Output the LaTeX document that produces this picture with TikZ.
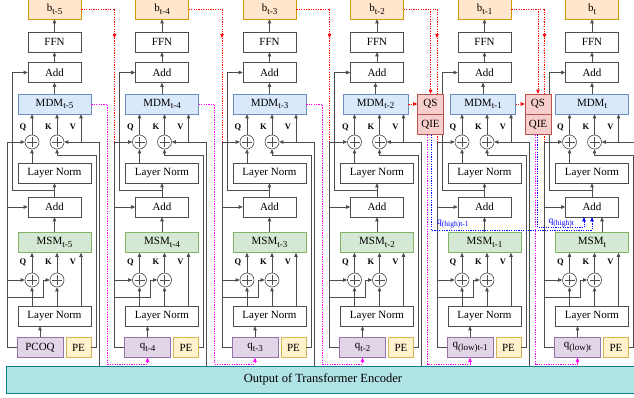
\documentclass[tikz,border=0pt]{standalone}
\usepackage{fontspec}
\setmainfont{Liberation Serif}
\usepackage{tikz}
\usetikzlibrary{arrows.meta,positioning}
\definecolor{gline}{HTML}{4D4D4D}
\definecolor{orF}{HTML}{FFE6CC}\definecolor{orD}{HTML}{D79B00}
\definecolor{blF}{HTML}{DAE8FC}\definecolor{blD}{HTML}{6C8EBF}
\definecolor{grF}{HTML}{D5E8D4}\definecolor{grD}{HTML}{82B366}
\definecolor{puF}{HTML}{E1D5E7}\definecolor{puD}{HTML}{9673A6}
\definecolor{yeF}{HTML}{FFF2CC}\definecolor{yeD}{HTML}{D6B656}
\definecolor{rsF}{HTML}{F8CECC}\definecolor{rsD}{HTML}{B85450}
\definecolor{teF}{HTML}{B0E3E6}\definecolor{teD}{HTML}{0E8088}
\definecolor{pkC}{HTML}{FF00FF}
\definecolor{buC}{HTML}{0000FF}
\definecolor{rdC}{HTML}{FF0000}
\newcommand{\dsub}[1]{\raisebox{-2.6pt}{\fontsize{9}{9}\selectfont #1}}
\newcommand{\hsub}[1]{\raisebox{-2pt}{\fontsize{7.5}{8}\selectfont #1}}

\begin{document}
\begin{tikzpicture}[x=1pt,y=-1pt,
   every node/.style={font=\fontsize{11}{13}\selectfont,text=black},
   bx/.style={draw=gline,fill=white,line width=0.6pt,minimum width=53,minimum height=20,inner sep=0pt},
   pl/.style={circle,draw=gline,fill=white,line width=0.6pt,minimum size=14,inner sep=0pt,
     path picture={\draw[gline,line width=0.6pt]
       ([xshift=-5pt]path picture bounding box.center) -- ([xshift=5pt]path picture bounding box.center)
       ([yshift=-5pt]path picture bounding box.center) -- ([yshift=5pt]path picture bounding box.center);}},
   lb/.style={font=\fontsize{8.5}{9}\selectfont\bfseries,inner sep=0pt},
   hl/.style={font=\fontsize{9.5}{10}\selectfont,text=buC,inner sep=0pt},
   ar/.style={draw=gline,line width=0.7pt,-{Triangle[length=4pt,width=3.5pt]}},
   rd/.style={draw=rdC,line width=0.7pt,dash pattern=on 1.2pt off 1.2pt},
   rdA/.style={rd,-{Triangle[length=4pt,width=3.5pt]}},
   pkA/.style={draw=pkC,line width=0.7pt,dash pattern=on 1.2pt off 1.2pt,-{Triangle[length=4pt,width=3.5pt]}},
   blA/.style={draw=buC,line width=0.7pt,dash pattern=on 1.2pt off 1.2pt,-{Triangle[length=4pt,width=3.5pt]}}]
  \useasboundingbox (0,0) rectangle (634,398);
  \clip (0,0) rectangle (634,398);
  \node[draw=teD,fill=teF,line width=0.8pt,minimum width=634,minimum height=27,inner sep=0pt,
     font=\fontsize{12.5}{14}\selectfont] (enc) at (323,379.5) {Output of Transformer Encoder};
  \foreach \k/\s/\qt in {0/t-5/PCOQ, 1/t-4/q\dsub{t-4}, 2/t-3/q\dsub{t-3},
      3/t-2/q\dsub{t-2}, 4/t-1/q\dsub{(low)t-1}, 5/t/q\dsub{(low)t}}{
     \pgfmathsetmacro{\X}{28+107.5*\k}
     \pgfmathsetmacro{\mw}{(\k==3||\k==4) ? 65 : 73}
     \pgfmathsetmacro{\mx}{(\k==3||\k==4) ? \X+25 : \X+26.5}
     \pgfmathsetmacro{\sx}{\k==5 ? \X+36.5 : \X+26.5}
     \pgfmathsetmacro{\px}{\k<3 ? \X+79 : \X+77}
     \node[bx,fill=orF,draw=orD] (b\k) at (\X+26.5,9) {b\dsub{\s}};
     \node[bx] (ffn\k) at (\X+26.5,42) {FFN};
     \node[bx] (at\k) at (\X+26.5,72.5) {Add};
     \node[bx,minimum width=\mw,fill=blF,draw=blD] (mdm\k) at (\mx,104) {MDM\dsub{\s}};
     \node[pl] (qa\k) at (\X+4,142) {};
     \node[pl] (ka\k) at (\X+29,142) {};
     \node[bx,minimum width=73] (lt\k) at (\X+26.5,173) {Layer Norm};
     \node[bx] (ab\k) at (\X+26.5,207) {Add};
     \node[bx,minimum width=73,fill=grF,draw=grD] (msm\k) at (\X+26.5,242.5) {MSM\dsub{\s}};
     \node[pl] (qb\k) at (\X+4,280) {};
     \node[pl] (kb\k) at (\X+29,280) {};
     \node[bx,minimum width=73] (lb\k) at (\X+26.5,316) {Layer Norm};
     \node[bx,minimum width=46,fill=puF,draw=puD] (q\k) at (\X+12,347.5) {\qt};
     \node[bx,minimum width=25,fill=yeF,draw=yeD] (pe\k) at (\X+50.5,347.5) {PE};
     \node[lb] (lqa\k) at (\X-5,127) {Q};
     \node[lb] (lka\k) at (\X+20.5,127) {K};
     \node[lb] (lva\k) at (\X+45,127) {V};
     \node[lb] (lqb\k) at (\X-5,262) {Q};
     \node[lb] (lkb\k) at (\X+20.5,262) {K};
     \node[lb] (lvb\k) at (\X+45,262) {V};
     \coordinate (et\k) at (\X+71,142);
     \coordinate (vt\k) at (\X+53,142);
     \coordinate (pt\k) at (\X+68,155);
     \coordinate (rs\k) at (\X+26.5,190);
     \coordinate (rl\k) at (\X-16,190);
     \coordinate (ql\k) at (\X-21,142);
     \coordinate (rt\k) at (\X-21,38);
     \coordinate (jk\k) at (\X+15,297);
     \coordinate (sa\k) at (\sx,232);
     \coordinate (pk\k) at (\px,364);
     \draw[ar] (ffn\k) -- (b\k);
     \draw[ar] (at\k) -- (ffn\k);
     \draw[ar] (mdm\k.north) -- (mdm\k.north |- at\k.south);
     \draw[ar] (qa\k.north) -- (qa\k |- mdm\k.south);
     \draw[ar] (ka\k.north) -- (ka\k |- mdm\k.south);
     \draw[ar] (vt\k) -- (vt\k |- mdm\k.south);
     \draw[ar] (enc.north -| et\k) -- (et\k) -- (ka\k.east);
     \draw[ar] (pe\k.east) -| (pt\k) -| (ka\k.south);
     \draw[ar] (lt\k.north -| qa\k) -- (qa\k.south);
     \draw[ar] (ab\k) -- (lt\k);
     \draw[ar] (rs\k) -- (rl\k) |- (at\k.west);
     \draw[ar] (q\k.west) -| (ql\k) -- (qa\k.west);
     \draw[ar] (ql\k |- ab\k) -- (ab\k.west);
     \draw[ar] (ql\k |- qb\k) -- (qb\k.west);
     \draw[ar] (ql\k |- jk\k) -- (jk\k) |- (kb\k.west);
     \draw[ar] (msm\k.north -| sa\k) -- (ab\k.south -| sa\k);
     \draw[ar] (qb\k.north) -- (qb\k |- msm\k.south);
     \draw[ar] (kb\k.north) -- (kb\k |- msm\k.south);
     \draw[ar] (lb\k.north -| vt\k) -- (vt\k |- msm\k.south);
     \draw[ar] (lb\k.north -| qb\k) -- (qb\k.south);
     \draw[ar] (lb\k.north -| kb\k) -- (kb\k.south);
     \draw[ar] (q\k.north) -- (q\k |- lb\k.south);
  }
  \foreach \k in {0,...,4}{
     \pgfmathtruncatemacro{\n}{\k+1}
     \draw[rdA] (b\k.east) -| (rt\n);
     \draw[rd] (rt\n) -- (ql\n);
  }
  \foreach \k in {0,1,2}{
     \pgfmathtruncatemacro{\n}{\k+1}
     \draw[pkA] (mdm\k.east) -| (pk\k) -| (q\n.south);
  }
  \foreach \k in {3,4}{
     \pgfmathtruncatemacro{\n}{\k+1}
     \pgfmathsetmacro{\X}{28+107.5*\k}
     \node[bx,minimum width=26,fill=rsF,draw=rsD] (qs\k) at (\X+80,104) {QS};
     \node[bx,minimum width=26,fill=rsF,draw=rsD,below=0pt of qs\k] (qie\k) {QIE};
     \draw[rdA] (mdm\k.east) -- (qs\k.west);
     \draw[rdA] (b\k.east -| qs\k) -- (qs\k.north);
     \draw[pkA] (qie\k.south -| pk\k) -- (pk\k) -| (q\n.south);
  }
  \coordinate (bl3) at (431,230);
  \coordinate (bl4) at (537.5,227.5);
  \draw[blA] (qie3.south -| bl3) -- (bl3) -| (ab5.south);
  \draw[blA] (qie4.south -| bl4) -- (bl4) -| ([xshift=-8pt]ab5.south);
  \node[hl,anchor=south west] (h3) at ([xshift=6pt,yshift=2pt]bl3) {q\hsub{(high)t-1}};
  \node[hl,anchor=south west] (h4) at ([xshift=11pt,yshift=0pt]bl4) {q\hsub{(high)t}};
\end{tikzpicture}
\end{document}
